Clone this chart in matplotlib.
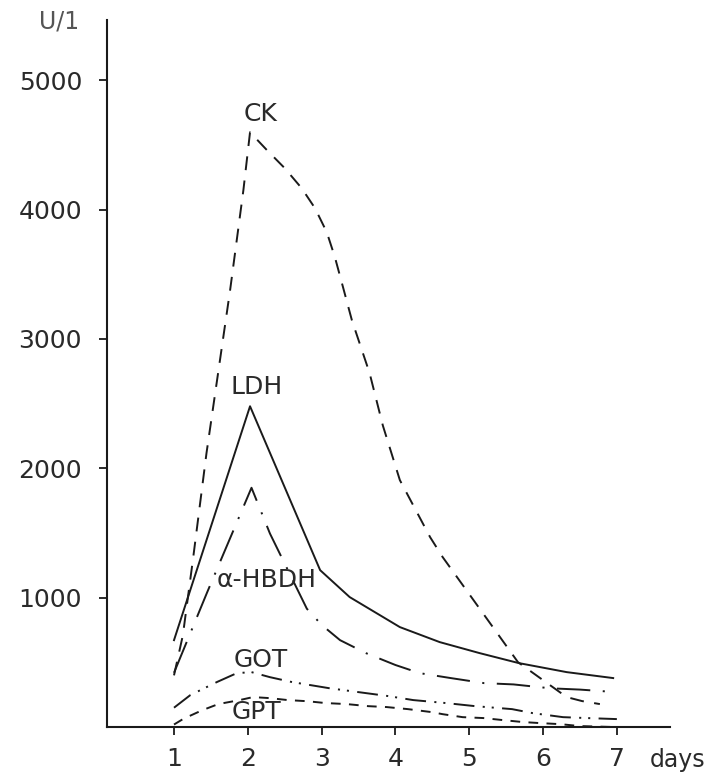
import matplotlib
matplotlib.use('Agg')
import matplotlib.pyplot as plt

plt.rcParams['font.family'] = ['DejaVu Sans']
plt.rcParams['lines.scale_dashes'] = False  # dash lengths in points

INK = '#1a1a1a'
TXT = '#2a2a2a'

# axis ticks
day_ticks = [1, 2, 3, 4, 5, 6, 7]
u_ticks = [1000, 2000, 3000, 4000, 5000]

# enzyme activity (U/l)
ck_days = [1.0, 1.12, 1.26, 1.44, 1.76, 1.94, 2.03, 2.26, 2.50, 2.73, 2.91, 3.07, 3.18, 3.29, 3.41,
           3.65, 3.83, 4.06, 4.47, 4.64, 5.32, 5.66, 6.32, 6.53, 6.77]
ck_vals = [400, 710, 1310, 2117, 3377, 4150, 4598, 4459, 4320, 4165, 4011, 3825, 3632, 3400, 3145,
           2736, 2330, 1909, 1468, 1314, 773, 502, 232, 201, 178]

ldh_days = [1.0, 2.03, 2.98, 3.38, 4.06, 4.60, 5.14, 5.67, 6.32, 6.95]
ldh_vals = [672, 2480, 1213, 1005, 773, 657, 572, 495, 425, 379]

hbdh_days = [1.0, 1.45, 2.05, 2.30, 2.44, 2.80, 3.0, 3.25, 3.6, 4.0, 4.33, 4.75, 5.2, 5.6, 6.1, 6.5, 7.0]
hbdh_vals = [420, 1043, 1850, 1496, 1333, 915, 790, 672, 572, 480, 417, 379, 340, 330, 300, 290, 270]

got_days = [1.0, 1.22, 1.58, 1.85, 2.05, 2.3, 2.6, 3.1, 3.4, 3.9, 4.24, 4.7, 5.08, 5.58, 5.86, 6.27,
            6.59, 7.0]
got_vals = [150, 247, 348, 417, 425, 386, 348, 301, 278, 240, 209, 185, 162, 139, 108, 77, 70, 62]

gpt_days = [1.0, 1.13, 1.38, 1.6, 1.89, 2.07, 2.3, 2.54, 2.81, 3.05, 3.34, 3.63, 3.88, 4.17, 4.49,
            4.64, 4.91, 5.19, 5.46, 5.73, 5.96, 6.23, 6.5, 7.0]
gpt_vals = [20, 65, 130, 178, 209, 232, 224, 209, 200, 186, 178, 162, 155, 139, 116,
            100, 77, 70, 54, 39, 31, 23, 8, 0]

# curve labels: (text, day, value)
labels = [('CK', 2.17, 4737), ('LDH', 2.12, 2627), ('α-HBDH', 2.26, 1136),
          ('GOT', 2.17, 518), ('GPT', 2.12, 116)]

fig = plt.figure(figsize=(7.09, 7.76), dpi=100)
ax = fig.add_axes([0.151, 0.063, 0.794, 0.911])

lw = 1.4
ax.plot(ck_days, ck_vals, color=INK, lw=lw, dashes=(10, 7.5))
ax.plot(ldh_days, ldh_vals, color=INK, lw=lw, ls='-')
ax.plot(hbdh_days, hbdh_vals, color=INK, lw=lw, dashes=(24, 9, 1.5, 9))
ax.plot(got_days, got_vals, color=INK, lw=lw, dashes=(15, 6, 1.5, 5, 1.5, 6))
ax.plot(gpt_days, gpt_vals, color=INK, lw=lw, dashes=(7, 6))

for txt, xd, yd in labels:
    ax.text(xd, yd, txt, fontsize=18, color=TXT, ha='center', va='center')

ax.set_xlim(0.093, 7.72)
ax.set_ylim(0, 5464)
ax.set_xticks(day_ticks)
ax.set_yticks(u_ticks)
ax.tick_params(axis='both', direction='out', length=6, width=1.3, colors=INK, labelsize=18,
               labelcolor=TXT)
ax.tick_params(axis='y', pad=12)
ax.tick_params(axis='x', pad=8)

for side in ['top', 'right']:
    ax.spines[side].set_visible(False)
for side in ['left', 'bottom']:
    ax.spines[side].set_linewidth(1.5)
    ax.spines[side].set_color(INK)

fig.text(0.083, 0.972, 'U/1', fontsize=17, color='#555555', ha='center', va='center')
fig.text(0.955, 0.021, 'days', fontsize=17, color=TXT, ha='center', va='center')

fig.savefig('out.png', dpi=100)
